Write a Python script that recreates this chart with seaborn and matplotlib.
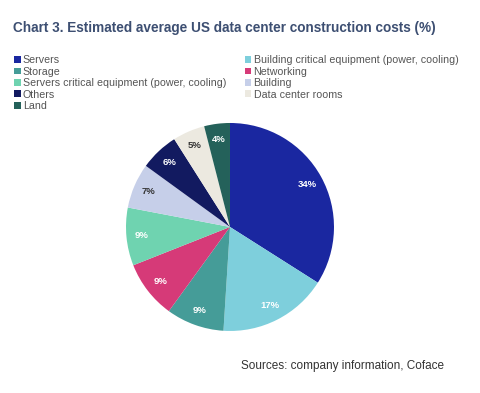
import matplotlib
matplotlib.use("Agg")
import matplotlib.pyplot as plt
import seaborn as sns
from matplotlib.patches import Patch

categories = ["Servers", "Building critical equipment (power, cooling)", "Storage", "Networking",
              "Servers critical equipment (power, cooling)", "Building", "Others",
              "Data center rooms", "Land"]
values = [34, 17, 9, 9, 9, 7, 6, 5, 4]
colors = ["#1a27a0", "#7ecfdc", "#459c98", "#d63a78", "#6fd3b0", "#c6cfe9", "#121a60", "#ece9e0", "#24615a"]
label_colors = ["white", "white", "white", "white", "white", "#333333", "white", "#333333", "white"]

sns.set_theme(style="white")
plt.rcParams['font.family'] = ['Liberation Sans', 'DejaVu Sans']

fig = plt.figure(figsize=(4.8, 3.93), dpi=100)
ax = fig.add_axes([0.2625, 0.1578, 0.4333, 0.5293])
palette = sns.color_palette(colors)
wedges, texts, autotexts = ax.pie(values, colors=palette, startangle=90, counterclock=False,
                                  autopct=lambda p: f"{p:.0f}%", pctdistance=0.85,
                                  textprops=dict(fontsize=6.8, fontweight="bold"),
                                  wedgeprops=dict(linewidth=0))
for t, c in zip(autotexts, label_colors):
    t.set_color(c)
ax.set_xlim(-1, 1)
ax.set_ylim(-1, 1)
ax.set_aspect("equal")

fig.text(13/480, 1 - 28/393, "Chart 3. Estimated average US data center construction costs (%)",
         fontsize=9.8, fontweight="bold", color="#3d4f72", va="center", ha="left")

# legend, row-major in 2 columns
order_col = [0, 2, 4, 6, 8, 1, 3, 5, 7]
handles = [Patch(facecolor=colors[i], edgecolor="none") for i in order_col]
labels = [categories[i] for i in order_col]
leg = fig.legend(handles, labels, ncol=2, loc="upper left", bbox_to_anchor=(9/480, 1 - 50/393),
                 frameon=False, fontsize=7.7, handlelength=0.6, handleheight=0.6,
                 handletextpad=0.2, labelspacing=0.13, columnspacing=1.75, borderpad=0)
for t in leg.get_texts():
    t.set_color("#555555")

fig.text(241/480, 1 - 366/393, "Sources: company information, Coface", fontsize=8.5,
         color="#333333", va="center", ha="left")

fig.savefig("out.png", dpi=100)
